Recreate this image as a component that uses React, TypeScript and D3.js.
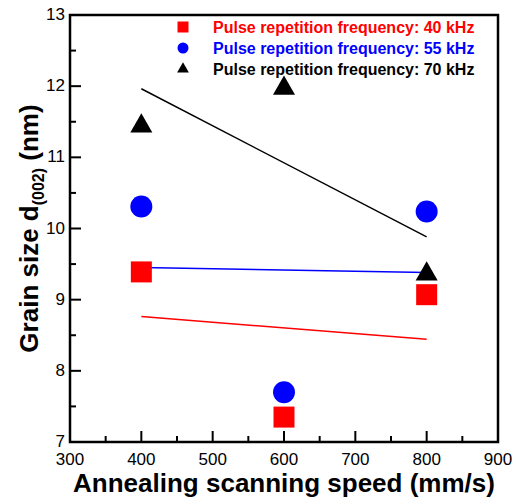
import React, { useEffect, useRef } from 'react';
import * as d3 from 'd3';

const speeds = [400, 600, 800];
const size40 = [9.39, 7.35, 9.07];
const size55 = [10.31, 7.7, 10.24];
const size70 = [11.44, 11.97, 9.36];
const seriesNames = [
  'Pulse repetition frequency: 40 kHz',
  'Pulse repetition frequency: 55 kHz',
  'Pulse repetition frequency: 70 kHz',
];
const seriesColors = ['#ff0000', '#0000ff', '#000000'];
const xTicks = [300, 400, 500, 600, 700, 800, 900];
const yTicks = [7, 8, 9, 10, 11, 12, 13];

const W = 515;
const H = 500;
const margin = { top: 15, right: 17, bottom: 58, left: 70 };

// least squares line through the points of one series
const fitLine = (xs: number[], ys: number[]) => {
  const mx = d3.mean(xs) as number;
  const my = d3.mean(ys) as number;
  const sxy = d3.sum(xs, (x, i) => (x - mx) * (ys[i] - my));
  const sxx = d3.sum(xs, x => (x - mx) ** 2);
  const b = sxy / sxx;
  return (x: number) => my + b * (x - mx);
};

const App = () => {
  const ref = useRef<SVGSVGElement>(null);

  useEffect(() => {
    const svg = d3.select(ref.current);
    svg.selectAll('*').remove();

    const x = d3.scaleLinear().domain([300, 900]).range([margin.left, W - margin.right]);
    const y = d3.scaleLinear().domain([7, 13]).range([H - margin.bottom, margin.top]);
    const font = 'Arial, "Liberation Sans", sans-serif';

    const g = svg.append('g');

    // minor + major ticks, pointing inward
    const minorX = d3.range(350, 900, 100);
    const minorY = d3.range(7.5, 13, 1);
    g.selectAll('.xmaj').data(xTicks).enter().append('line')
      .attr('x1', d => x(d)).attr('x2', d => x(d))
      .attr('y1', y(7)).attr('y2', y(7) - 11)
      .attr('stroke', '#000').attr('stroke-width', 2);
    g.selectAll('.xmin').data(minorX).enter().append('line')
      .attr('x1', d => x(d)).attr('x2', d => x(d))
      .attr('y1', y(7)).attr('y2', y(7) - 6)
      .attr('stroke', '#000').attr('stroke-width', 2);
    g.selectAll('.ymaj').data(yTicks).enter().append('line')
      .attr('x1', x(300)).attr('x2', x(300) + 11)
      .attr('y1', d => y(d)).attr('y2', d => y(d))
      .attr('stroke', '#000').attr('stroke-width', 2);
    g.selectAll('.ymin').data(minorY).enter().append('line')
      .attr('x1', x(300)).attr('x2', x(300) + 6)
      .attr('y1', d => y(d)).attr('y2', d => y(d))
      .attr('stroke', '#000').attr('stroke-width', 2);

    // tick labels
    g.selectAll('.xl').data(xTicks).enter().append('text')
      .attr('x', d => x(d)).attr('y', y(7) + 23)
      .attr('text-anchor', 'middle')
      .attr('font-family', font).attr('font-size', 17)
      .text(d => d);
    g.selectAll('.yl').data(yTicks).enter().append('text')
      .attr('x', x(300) - 5).attr('y', d => y(d) + 5)
      .attr('text-anchor', 'end')
      .attr('font-family', font).attr('font-size', 17)
      .text(d => d);

    // frame
    g.append('rect')
      .attr('x', x(300)).attr('y', y(13))
      .attr('width', x(900) - x(300)).attr('height', y(7) - y(13))
      .attr('fill', 'none').attr('stroke', '#000').attr('stroke-width', 2.5);

    const all = [size40, size55, size70];

    // fitted lines
    all.forEach((vals, i) => {
      const f = fitLine(speeds, vals);
      const x0 = d3.min(speeds) as number;
      const x1 = d3.max(speeds) as number;
      g.append('line')
        .attr('x1', x(x0)).attr('y1', y(f(x0)))
        .attr('x2', x(x1)).attr('y2', y(f(x1)))
        .attr('stroke', seriesColors[i]).attr('stroke-width', 1.5);
    });

    const symbols = [d3.symbolSquare, d3.symbolCircle, d3.symbolTriangle];
    const bigSizes = [21 * 21, Math.PI * 11 * 11, 210];
    const smallSizes = [11 * 11, Math.PI * 5.5 * 5.5, 60];

    // points
    all.forEach((vals, i) => {
      g.selectAll(`.pt${i}`).data(vals).enter().append('path')
        .attr('d', d3.symbol(symbols[i], bigSizes[i])())
        .attr('transform', (d, j) => `translate(${x(speeds[j])},${y(d)})`)
        .attr('fill', seriesColors[i]);
    });

    // legend
    seriesNames.forEach((name, i) => {
      const ly = 27 + i * 21;
      g.append('path')
        .attr('d', d3.symbol(symbols[i], smallSizes[i])())
        .attr('transform', `translate(183,${ly})`)
        .attr('fill', seriesColors[i]);
      g.append('text')
        .attr('x', 213).attr('y', ly + 6)
        .attr('font-family', font).attr('font-size', 16).attr('font-weight', 'bold')
        .attr('fill', seriesColors[i])
        .text(name);
    });

    // axis titles
    g.append('text')
      .attr('x', (x(300) + x(900)) / 2).attr('y', 492)
      .attr('text-anchor', 'middle')
      .attr('font-family', font).attr('font-size', 26).attr('font-weight', 'bold')
      .text('Annealing scanning speed (mm/s)');

    const yt = g.append('text')
      .attr('transform', `translate(38,${(y(7) + y(13)) / 2}) rotate(-90)`)
      .attr('text-anchor', 'middle')
      .attr('font-family', font).attr('font-size', 26).attr('font-weight', 'bold');
    yt.append('tspan').text('Grain size d');
    yt.append('tspan').attr('font-size', 16).attr('dy', 6).text('(002)');
    yt.append('tspan').attr('dy', -6).text(' (nm)');
  }, []);

  return (
    <svg ref={ref} width={W} height={H}
      style={{ position: 'absolute', left: 0, top: 0, background: '#fff' }} />
  );
};

export default App;
